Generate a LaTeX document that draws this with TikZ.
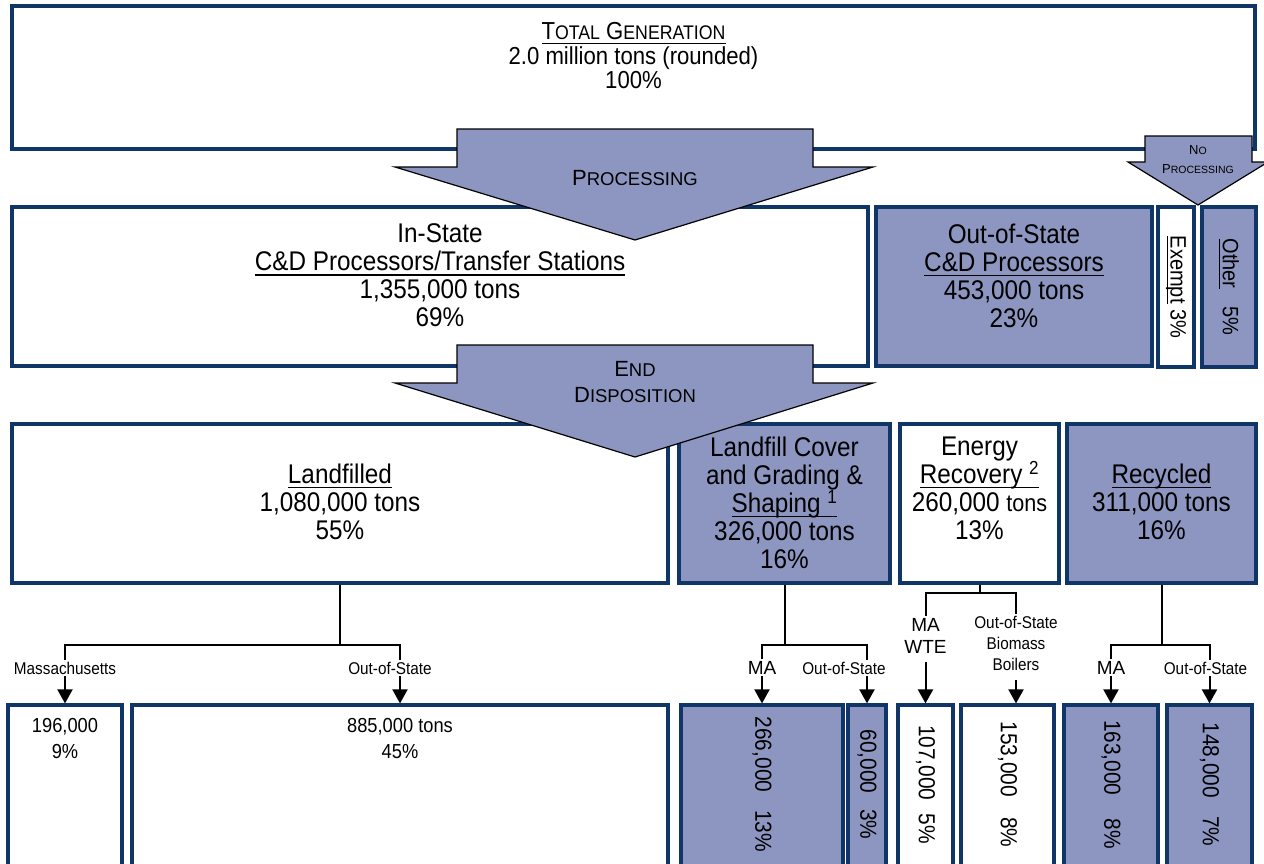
\documentclass[tikz,border=0pt]{standalone}
\usepackage{fontspec}
\setmainfont{Liberation Sans}
\newfontfamily\cfont[FakeStretch=0.9]{Liberation Sans}
\usetikzlibrary{positioning, arrows.meta}
\definecolor{navy}{RGB}{16,54,104}
\definecolor{lav}{RGB}{140,150,192}
\newcommand{\sccap}[3]{#1{\fontsize{#3}{#3}\selectfont #2}}
\newsavebox{\ulbox}
\newcommand{\ul}[1]{\sbox{\ulbox}{#1}\rlap{\rule[-0.18em]{\wd\ulbox}{0.06em}}\usebox{\ulbox}}
\setlength{\lineskiplimit}{-30pt}

\begin{document}
\begin{tikzpicture}[x=1pt, y=-1pt, >={Triangle[width=15pt,length=14pt]},
    wbox/.style={draw=navy, line width=3.2pt, fill=white, rectangle, inner sep=0pt},
    fbox/.style={wbox, fill=lav},
    txt/.style={inner sep=0pt, align=center, font=\cfont\fontsize{27}{28}\selectfont},
    ntxt/.style={inner sep=0pt, align=center, font=\cfont\fontsize{20.3}{26}\selectfont},
    vtxt/.style={inner sep=0pt, rotate=-90, font=\cfont\fontsize{23.2}{23}\selectfont},
    lbl/.style={inner sep=2pt, align=center, font=\cfont\fontsize{17}{21}\selectfont},
    lblma/.style={inner sep=2pt, align=center, font=\fontsize{19}{22}\selectfont},
    bigarrow/.style={draw=black, line width=1.2pt, fill=lav, line join=miter},
    link/.style={draw=black, line width=2pt}]
  \useasboundingbox (0,0) rectangle (1264,863);
  \clip (0,0) rectangle (1264,863);

  \node[wbox, minimum width=1243pt, minimum height=143pt] (total) at (633.5,77.5) {};
  \node[txt, font=\cfont\fontsize{24.6}{24.5}\selectfont, below=18pt of total.north] (totaltxt)
    {\ul{\sccap{T}{OTAL}{19.7} \sccap{G}{ENERATION}{19.7}}\\2.0 million tons (rounded)\\100\%};

  \node[wbox, minimum width=856pt, minimum height=159pt] (instate) at (440,286.5) {};
  \node[fbox, minimum width=276pt, minimum height=159pt] (outstate) at (1014,286.5) {};
  \node[wbox, minimum width=36pt, minimum height=160pt] (exempt) at (1176,287) {};
  \node[fbox, minimum width=54pt, minimum height=160pt] (other) at (1229,287) {};
  \node[txt, below=18.3pt of instate.north] {In-State\\\ul{C\&D Processors/Transfer Stations}\\1,355,000 tons\\69\%};
  \node[txt, below=18.3pt of outstate.north] {Out-of-State\\\ul{C\&D Processors}\\453,000 tons\\23\%};
  \node[vtxt, font=\cfont\fontsize{22.2}{22}\selectfont] at (exempt) {\ul{Exempt} 3\%};
  \node[vtxt, font=\cfont\fontsize{22.2}{22}\selectfont] at (other) {\ul{Other}\hspace{18pt}5\%};

  \node[wbox, minimum width=656pt, minimum height=159pt] (landfilled) at (340,503.5) {};
  \node[fbox, minimum width=211pt, minimum height=159pt] (cover) at (784.5,503.5) {};
  \node[wbox, minimum width=159pt, minimum height=159pt] (energy) at (979.5,503.5) {};
  \node[fbox, minimum width=189pt, minimum height=159pt] (recycled) at (1161.5,503.5) {};
  \node[txt, below=41.3pt of landfilled.north] {\ul{Landfilled}\\1,080,000 tons\\55\%};
  \node[txt, below=14.3pt of cover.north] {Landfill Cover\\and Grading \&\\\ul{Shaping \textsuperscript{1}}\\326,000 tons\\16\%};
  \node[txt, below=14.3pt of energy.north] {Energy\\\ul{Recovery \textsuperscript{2}}\\260,000 {\fontsize{24}{28}\selectfont tons}\\13\%};
  \node[txt, below=41.3pt of recycled.north] {\ul{Recycled}\\311,000 tons\\16\%};

  \node[wbox, minimum width=114pt, minimum height=195pt] (b1) at (65,802.5) {};
  \node[wbox, minimum width=536pt, minimum height=195pt] (b2) at (400,802.5) {};
  \node[fbox, minimum width=162pt, minimum height=195pt] (b3) at (762,802.5) {};
  \node[fbox, minimum width=38pt, minimum height=195pt] (b4) at (867,802.5) {};
  \node[wbox, minimum width=55pt, minimum height=195pt] (b5) at (925.5,802.5) {};
  \node[wbox, minimum width=93pt, minimum height=195pt] (b6) at (1007.5,802.5) {};
  \node[fbox, minimum width=94pt, minimum height=195pt] (b7) at (1111,802.5) {};
  \node[fbox, minimum width=85pt, minimum height=195pt] (b8) at (1209.5,802.5) {};
  \node[ntxt, below=14.5pt of b1.north] {196,000\\9\%};
  \node[ntxt, below=14.5pt of b2.north] {885,000 tons\\45\%};
  \node[vtxt] at ([yshift=-81pt]b3.north) {266,000\hspace{18pt}13\%};
  \node[vtxt] at ([yshift=-81pt]b4.north) {60,000\hspace{16pt}3\%};
  \node[vtxt] at ([yshift=-81pt]b5.north) {107,000\hspace{13pt}5\%};
  \node[vtxt] at ([yshift=-81pt]b6.north) {153,000\hspace{20pt}8\%};
  \node[vtxt] at ([yshift=-81pt]b7.north) {163,000\hspace{23pt}8\%};
  \node[vtxt] at ([yshift=-81pt]b8.north) {148,000\hspace{18pt}7\%};

  \draw[bigarrow] (457,129) -- (813,129) -- (813,167) -- (873,167) -- (635,240) -- (395,167) -- (457,167) -- cycle;
  \node[inner sep=0pt, font=\fontsize{22}{22}\selectfont] (proc) at (635,178) {\sccap{P}{ROCESSING}{18.5}};
  \draw[bigarrow] (457,345) -- (813,345) -- (813,383) -- (873,383) -- (635,457) -- (395,383) -- (457,383) -- cycle;
  \node[inner sep=0pt, align=center, font=\fontsize{22}{26}\selectfont] (endd) at (635,382) {\sccap{E}{ND}{18.5}\\\sccap{D}{ISPOSITION}{18.5}};
  \draw[bigarrow] (1145,136) -- (1252,136) -- (1252,162) -- (1268,162) -- (1198,205) -- (1128,162) -- (1145,162) -- cycle;
  \node[inner sep=0pt, align=center, font=\fontsize{13}{19}\selectfont] (noproc) at (1198,160) {\sccap{N}{O}{10.5}\\\sccap{P}{ROCESSING}{10.5}};

  \node[lbl, above=27pt of b1] (mass) {Massachusetts};
  \node[lbl, above=27pt of b2, xshift=-10pt] (lfos) {Out-of-State};
  \node[lblma, above=27pt of b3] (cvma) {MA};
  \node[lbl, above=27pt of b4, xshift=-23pt] (cvos) {Out-of-State};
  \node[lblma, above=48pt of b5] (wte) {MA\\WTE};
  \node[lbl, above=31pt of b6, xshift=8.5pt] (bio) {Out-of-State\\Biomass\\Boilers};
  \node[lblma, above=27pt of b7] (rcma) {MA};
  \node[lbl, above=27pt of b8, xshift=-4pt] (rcos) {Out-of-State};

  \draw[link] (landfilled.south) -- ++(0,60) coordinate (lfj);
  \draw[link] (lfj) -| (mass.north);
  \draw[link] (lfj) -| (b2.north |- lfos.north);
  \draw[link, ->] (mass.south) -- (b1.north);
  \draw[link, ->] (b2.north |- lfos.south) -- (b2.north);

  \draw[link] (cover.south) -- ++(0,60) coordinate (cvj);
  \draw[link] (cvj) -| (cvma.north);
  \draw[link] (cvj) -| (b4.north |- cvos.north);
  \draw[link, ->] (cvma.south) -- (b3.north);
  \draw[link, ->] (b4.north |- cvos.south) -- (b4.north);

  \draw[link] (energy.south) -- ++(0,8) coordinate (erj);
  \draw[link] (erj) -| (wte.north);
  \draw[link] (erj) -| (bio.north);
  \draw[link, ->, shorten <=7pt] (wte.south) -- (b5.north);
  \draw[link, ->, shorten <=8pt] (bio.south) -- (bio.south |- b6.north);

  \draw[link] (recycled.south) -- ++(0,60) coordinate (rcj);
  \draw[link] (rcj) -| (rcma.north);
  \draw[link] (rcj) -| (b8.north |- rcos.north);
  \draw[link, ->] (rcma.south) -- (b7.north);
  \draw[link, ->] (b8.north |- rcos.south) -- (b8.north);
\end{tikzpicture}
\end{document}
